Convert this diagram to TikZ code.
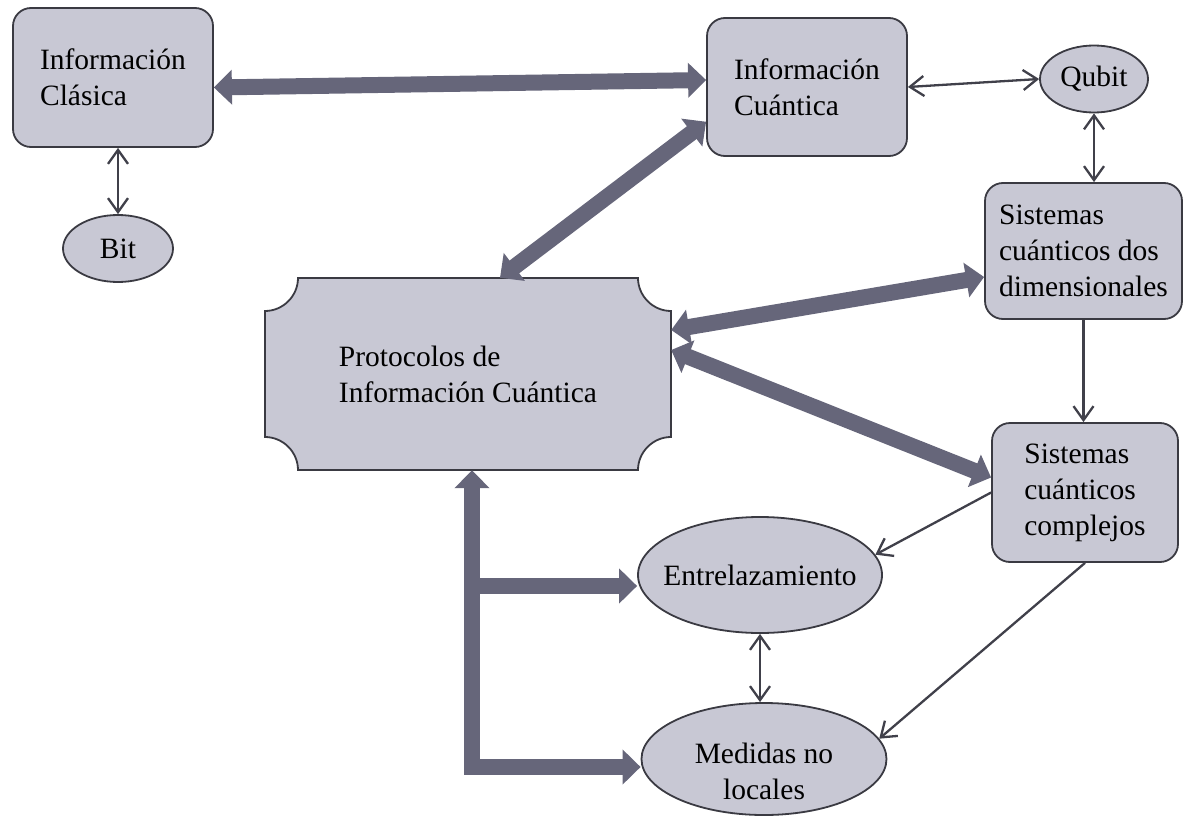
\documentclass[tikz,border=0pt]{standalone}
\usepackage{fontspec}
\setmainfont{Liberation Serif}
\usetikzlibrary{shapes.geometric,arrows.meta,backgrounds}
\definecolor{boxfill}{RGB}{200,200,212}
\definecolor{boxline}{RGB}{58,58,66}
\definecolor{bigfill}{RGB}{102,102,122}
\definecolor{linkline}{RGB}{64,64,74}
\begin{document}
\begin{tikzpicture}[line join=round, x=1pt, y=-1pt, font=\fontsize{29.5}{36}\selectfont]
	\tikzset{box/.style={draw=boxline, line width=1.8pt, fill=boxfill, rounded corners=18pt, align=left},
		oval/.style={ellipse, draw=boxline, line width=1.8pt, fill=boxfill},
		bigtip/.tip={Triangle[length=18pt,width=34pt]},
		smalltip/.tip={Straight Barb[length=14pt,width=20pt]},
		big/.style={draw=bigfill, line width=16pt, line join=miter},
		link/.style={draw=linkline, line width=2.3pt}}
	\useasboundingbox (0,0) rectangle (1184,819);
	\node[box, minimum width=200pt, minimum height=139pt] (cla) at (113,77.5) {Información\\Clásica};
	\node[box, minimum width=200pt, minimum height=138pt] (cua) at (807,87) {Información\\Cuántica};
	\node[box, minimum width=197pt, minimum height=136pt] (dos) at (1083.5,251) {Sistemas\\cuánticos dos\\dimensionales};
	\node[box, minimum width=186pt, minimum height=139pt] (com) at (1085,492.5) {Sistemas\\cuánticos\\complejos};
	\node[align=left, minimum width=406pt, minimum height=192pt] (prot) at (468,374) {Protocolos de\\Información Cuántica};
	\node[oval, minimum width=110pt, minimum height=67pt, label=center:Bit] (bit) at (118,248.5) {};
	\node[oval, minimum width=108pt, minimum height=67pt, label=center:Qubit] (qub) at (1094,79) {};
	\node[oval, minimum width=244pt, minimum height=116pt, label=center:Entrelazamiento] (ent) at (760,575) {};
	\node[oval, minimum width=245pt, minimum height=112pt, label={[align=center, yshift=-12pt]center:Medidas no\\locales}] (meas) at (764,759) {};
	\begin{scope}[on background layer]
		\draw[draw=boxline, line width=1.8pt, fill=boxfill, line join=miter] (298,278) -- (638,278) .. controls +(0,18) and +(-18,0) .. (671,311)
			-- (671,437) .. controls +(-18,0) and +(0,-18) .. (638,470) -- (298,470) .. controls +(0,-18) and +(18,0) .. (265,437)
			-- (265,311) .. controls +(18,0) and +(0,18) .. (298,278) -- cycle;
	\end{scope}
	% thick connectors
	\draw[big, bigtip-bigtip] ([yshift=-10pt]cla.east) -- ([yshift=7pt]cua.west);
	\draw[big, bigtip-bigtip] (cua.199) -- ([xshift=32pt]prot.north);
	\draw[big, bigtip-bigtip] ([yshift=-26pt]dos.west) -- ([yshift=44pt]prot.east);
	\draw[big, bigtip-bigtip] ([yshift=24pt]prot.east) -- ([yshift=15pt]com.west);
	\coordinate (fork) at ([xshift=4pt]prot.south);
	\coordinate (entin) at ([yshift=-11pt]ent.west);
	\coordinate (measin) at ([yshift=-8pt]meas.west);
	\draw[big, bigtip-bigtip] (fork) |- (measin);
	\draw[big, -bigtip] (fork |- entin) -- (entin);
	% thin connectors
	\draw[link, smalltip-smalltip] (cua.east) -- (qub.west);
	\draw[link, smalltip-smalltip] (bit.north |- cla.south) -- (bit.north);
	\draw[link, smalltip-smalltip] (qub.south) -- (qub.south |- dos.north);
	\draw[link, -smalltip] (dos.south) -- (dos.south |- com.north);
	\draw[link, -smalltip] (com.west) -- (ent.10);
	\draw[link, -smalltip] (com.south) -- (meas.10);
	\draw[link, smalltip-smalltip] (ent.south) -- (ent.south |- meas.north);
\end{tikzpicture}
\end{document}
